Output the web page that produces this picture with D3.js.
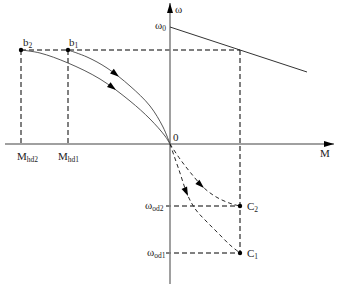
<!DOCTYPE html>
<html><head><meta charset="utf-8">
<script src="https://cdn.jsdelivr.net/npm/d3@7"></script>
<style>
html,body{margin:0;padding:0;background:#fff;}
svg{display:block;}
text{font-family:"Liberation Serif","DejaVu Serif",serif;fill:#222;}
</style></head>
<body>
<svg id="c" width="350" height="289"></svg>
<script>
// ---- data (M, ω in arbitrary units) ----
const axisM = [-1.65, 1.64];
const axisW = [-1.40, 1.41];
const wB = 0.94;          // ω at b1, b2
const w0 = 1.17;          // ω0
const Mhd2 = -1.49, Mhd1 = -1.02;
const MC = 0.70;
const wod2 = -0.62, wod1 = -1.09;
const idealLine = [[0, 1.17], [1.37, 0.72]];
const curveB1 = [[-1.02,0.94],[-0.83,0.87],[-0.63,0.76],[-0.40,0.58],[-0.20,0.38],[-0.07,0.17],[0,0]];
const curveB2 = [[-1.49,0.94],[-1.30,0.91],[-1.02,0.81],[-0.70,0.65],[-0.40,0.43],[-0.20,0.25],[-0.05,0.08],[0,0]];
const curveC2 = [[0,0],[0.10,-0.15],[0.20,-0.28],[0.33,-0.43],[0.43,-0.51],[0.52,-0.56],[0.62,-0.60],[0.70,-0.62]];
const curveC1 = [[0,0],[0.09,-0.26],[0.18,-0.52],[0.26,-0.66],[0.37,-0.78],[0.48,-0.89],[0.60,-1.01],[0.70,-1.09]];
const arrowAt = {b1:-0.51, b2:-0.54, c2:0.34, c1:0.18};

const svg = d3.select("#c");
const x = d3.scaleLinear().domain(axisM).range([5, 334]);
const y = d3.scaleLinear().domain(axisW).range([284, 3]);

const defs = svg.append("defs");
defs.append("marker").attr("id","ax").attr("viewBox","0 0 10 6")
  .attr("refX",10).attr("refY",3).attr("markerWidth",10).attr("markerHeight",6)
  .attr("markerUnits","userSpaceOnUse").attr("orient","auto")
  .append("path").attr("d","M0,0L10,3L0,6Z").attr("fill","#000");

const dash = "5,3";
function seg(x1,y1,x2,y2,opt){
  return svg.append("line").attr("x1",x1).attr("y1",y1).attr("x2",x2).attr("y2",y2)
    .attr("stroke",opt.c||"#000").attr("stroke-width",opt.w||1)
    .attr("stroke-dasharray",opt.d||null);
}

// dashed guides
seg(x(Mhd2), y(wB), x(MC), y(wB), {d:dash});
seg(x(Mhd2), y(wB), x(Mhd2), y(0), {d:dash});
seg(x(Mhd1), y(wB), x(Mhd1), y(0), {d:dash});
seg(x(MC), y(wB), x(MC), y(wod1), {d:dash});
seg(x(-0.04), y(wod2), x(MC), y(wod2), {d:dash});
seg(x(-0.04), y(wod1), x(MC), y(wod1), {d:dash});

// axes
seg(x(axisM[0]), y(0), x(axisM[1]), y(0), {c:"#808080", w:1.5}).attr("marker-end",null);
seg(x(0), y(axisW[0]), x(0), y(axisW[1]), {c:"#808080", w:1.5});
svg.append("path").attr("d",`M${x(axisM[1])-10},${y(0)-3}L${x(axisM[1])},${y(0)}L${x(axisM[1])-10},${y(0)+3}Z`).attr("fill","#000");
svg.append("path").attr("d",`M${x(0)-3},${y(axisW[1])+10}L${x(0)},${y(axisW[1])}L${x(0)+3},${y(axisW[1])+10}Z`).attr("fill","#000");

// ideal characteristic
const line = d3.line().x(d=>x(d[0])).y(d=>y(d[1]));
svg.append("path").attr("d", line(idealLine)).attr("fill","none").attr("stroke","#333").attr("stroke-width",1);

const cl = d3.line().x(d=>x(d[0])).y(d=>y(d[1])).curve(d3.curveCatmullRom);
function curve(data, dashed, aM){
  const p = svg.append("path").attr("d", cl(data)).attr("fill","none")
    .attr("stroke", dashed ? "#111" : "#444").attr("stroke-width", dashed?0.9:0.9)
    .attr("stroke-dasharray", dashed ? "4,3" : null);
  const node = p.node(), L = node.getTotalLength();
  const tx = x(aM);
  let lo=0, hi=L;
  for(let i=0;i<40;i++){ const m=(lo+hi)/2; if(node.getPointAtLength(m).x < tx) lo=m; else hi=m; }
  const l=(lo+hi)/2;
  const a=node.getPointAtLength(Math.max(0,l-2)), b=node.getPointAtLength(Math.min(L,l+2));
  const ang = Math.atan2(b.y-a.y, b.x-a.x)*180/Math.PI;
  const tip = node.getPointAtLength(l);
  svg.append("path").attr("d","M0,0L-9,-3L-9,3Z").attr("fill","#000")
    .attr("transform",`translate(${tip.x},${tip.y}) rotate(${ang})`);
}
curve(curveB1,false,arrowAt.b1);
curve(curveB2,false,arrowAt.b2);
curve(curveC2,true,arrowAt.c2);
curve(curveC1,true,arrowAt.c1);

// points
[[Mhd2,wB],[Mhd1,wB],[MC,wod2],[MC,wod1]].forEach(d=>{
  svg.append("circle").attr("cx",x(d[0])).attr("cy",y(d[1])).attr("r",2.2).attr("fill","#000");
});

// labels
function lab(px,py,main,sub,anchor){
  const t = svg.append("text").attr("x",px).attr("y",py).attr("font-size",11)
    .attr("text-anchor",anchor||"start");
  t.append("tspan").text(main);
  if(sub) t.append("tspan").attr("font-size",7.5).attr("dy",2).text(sub);
  return t;
}
lab(x(Mhd2)+2, y(wB)-4, "b", "2");
lab(x(Mhd1)+1, y(wB)-4, "b", "1");
lab(x(Mhd2)-4, y(0)+16, "M", "hd2");
lab(x(Mhd1)-10, y(0)+16, "M", "hd1");
lab(x(0)+5, y(axisW[1])+10, "ω");
lab(x(0)-15, y(w0)+2, "ω", "0");
lab(x(0)+3, y(0)-3, "0");
lab(x(axisM[1])-14, y(0)+13, "M");
lab(x(0)-25, y(wod2)+3, "ω", "od2");
lab(x(0)-23, y(wod1)+3, "ω", "od1");
lab(x(MC)+7, y(wod2)+4, "C", "2");
lab(x(MC)+7, y(wod1)+4, "C", "1");
</script>
</body></html>
